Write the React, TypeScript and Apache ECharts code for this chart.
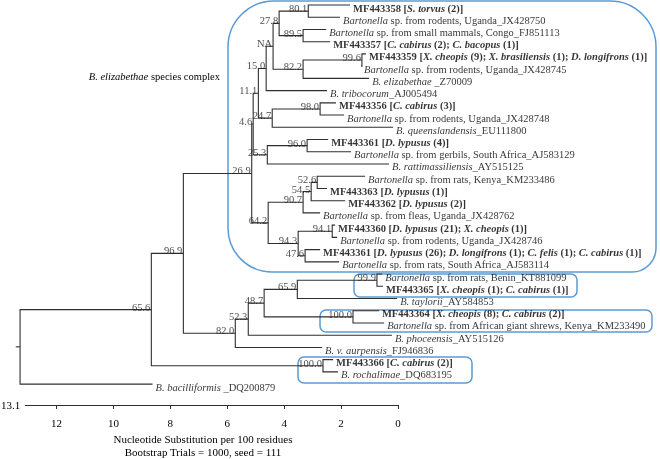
import React, { useEffect, useRef } from 'react';
import * as echarts from 'echarts';

// ---------- data ----------
const leafNames: string[] = [
  'MF443358 [S. torvus (2)]',
  'Bartonella sp. from rodents, Uganda_JX428750',
  'Bartonella sp. from small mammals, Congo_FJ851113',
  'MF443357 [C. cabirus (2); C. bacopus (1)]',
  'MF443359 [X. cheopis (9); X. brasiliensis (1); D. longifrons (1)]',
  'Bartonella sp. from rodents, Uganda_JX428745',
  'B. elizabethae _Z70009',
  'B. tribocorum_AJ005494',
  'MF443356 [C. cabirus (3)]',
  'Bartonella sp. from rodents, Uganda_JX428748',
  'B. queenslandensis_EU111800',
  'MF443361 [D. lypusus (4)]',
  'Bartonella sp. from gerbils, South Africa_AJ583129',
  'B. rattimassiliensis_AY515125',
  'Bartonella sp. from rats, Kenya_KM233486',
  'MF443363 [D. lypusus (1)]',
  'MF443362 [D. lypusus (2)]',
  'Bartonella sp. from fleas, Uganda_JX428762',
  'MF443360 [D. lypusus (21); X. cheopis (1)]',
  'Bartonella sp. from rodents, Uganda_JX428746',
  'MF443361 [D. lypusus (26); D. longifrons (1); C. felis (1); C. cabirus (1)]',
  'Bartonella sp. from rats, South Africa_AJ583114',
  'Bartonella sp. from rats, Benin_KT881099',
  'MF443365 [X. cheopis (1); C. cabirus (1)]',
  'B. taylorii_AY584853',
  'MF443364 [X. cheopis (8); C. cabirus (2)]',
  'Bartonella sp. from African giant shrews, Kenya_KM233490',
  'B. phoceensis_AY515126',
  'B. v. aurpensis_FJ946836',
  'MF443366 [C. cabirus (2)]',
  'B. rochalimae_DQ683195',
  'B. bacilliformis _DQ200879',
];

// tip position on the distance scale (0 at the right end of the scale)
const leafDepth: number[] = [
  1.66, 2.01, 2.49, 2.35, 1.11, 1.28, 1.0, 2.46, 2.15, 1.87, 0.17, 2.42, 1.63, 0.31, 1.14, 2.46,
  1.83, 2.7, 2.18, 2.11, 2.7, 2.04, 0.55, 0.52, 0.03, 0.66, 0.48, 0.21, 2.63, 2.25, 2.08, 8.51,
];

// internal nodes: bootstrap label, position, children ('n' = node, 'l' = leaf)
const nodeSupport: string[] = [
  '', '65.6', '96.9', '26.9', '4.6', '11.1', '15.0', 'NA', '27.8', '80.1', '89.5', '82.2', '99.6',
  '98.0', '24.7', '96.0', '25.3', '52.6', '64.2', '90.7', '54.5', '94.1', '94.3', '47.6', '99.9',
  '82.0', '52.3', '48.7', '65.9', '100.0', '100.0',
];
const nodeDepth: number[] = [
  13.1, 8.55, 7.44, 5.07, 5.02, 4.84, 4.57, 4.33, 4.12, 3.11, 3.29, 3.29, 1.25,
  2.7, 4.36, 3.15, 4.53, 2.8, 4.5, 3.29, 3.01, 2.28, 3.46, 3.22, 0.73,
  5.64, 5.19, 4.64, 3.49, 1.56, 2.6,
];
const nodeKids: string[][] = [
  ['n1', 'l31'], ['n2', 'n30'], ['n3', 'n25'], ['n4', 'n18'], ['n5', 'n16'], ['n6', 'n14'],
  ['n7', 'l7'], ['n8', 'n11'], ['n9', 'n10'], ['l0', 'l1'], ['l2', 'l3'], ['n12', 'l6'],
  ['l4', 'l5'], ['l8', 'l9'], ['n13', 'l10'], ['l11', 'l12'], ['n15', 'l13'], ['l14', 'l15'],
  ['n19', 'n22'], ['n20', 'l17'], ['n17', 'l16'], ['l18', 'l19'], ['n21', 'n23'], ['l20', 'l21'],
  ['l22', 'l23'], ['n26', 'l28'], ['n27', 'l27'], ['n28', 'n29'], ['n24', 'l24'], ['l25', 'l26'],
  ['l29', 'l30'],
];
const rootStemStart = 13.25;

const scaleMax = 13.1;
const tickValues: number[] = [0, 2, 4, 6, 8, 10, 12];
const axisTitle = 'Nucleotide Substitution per 100 residues';
const axisSubtitle = 'Bootstrap Trials = 1000, seed = 111';
const groupLabel = 'B. elizabethae species complex';

// ---------- layout ----------
const W = 660;
const H = 459;
const X0_PX = 398;
const PPU = 28.85;
const ROW0_PX = 5;
const ROW_PX = 12.23;
const FONT = '"Liberation Serif", "Times New Roman", Times, serif';
const FS = 10.5;
const BLUE = '#5B9BD5';
const LINE = '#2f2f2f';

const SPECIES = /(Bartonella|[A-Z]\. (?:v\. )?[a-z]+)/;
function toRich(name: string, bold: boolean): string {
  const parts = name.split(SPECIES);
  return parts
    .map((p, k) => {
      if (!p) return '';
      const italic = k % 2 === 1;
      const key = bold ? (italic ? 'bi' : 'b') : italic ? 'i' : 'n';
      return `{${key}|${p}}`;
    })
    .join('');
}

const base = { fontFamily: FONT, fontSize: FS, color: '#000' };
const RICH = {
  n: { ...base },
  i: { ...base, fontStyle: 'italic' },
  b: { ...base, fontWeight: 'bold' },
  bi: { ...base, fontWeight: 'bold', fontStyle: 'italic' },
};

export default function App() {
  const ref = useRef<HTMLDivElement>(null);
  useEffect(() => {
    if (!ref.current) return;
    const chart = echarts.init(ref.current, null, { renderer: 'svg' });

    const depthOf = (r: string) => (r[0] === 'l' ? leafDepth[+r.slice(1)] : nodeDepth[+r.slice(1)]);
    const rowCache: Record<string, number> = {};
    const rowOf = (r: string): number => {
      if (r in rowCache) return rowCache[r];
      let v: number;
      if (r[0] === 'l') v = +r.slice(1);
      else {
        const k = nodeKids[+r.slice(1)];
        v = (rowOf(k[0]) + rowOf(k[k.length - 1])) / 2;
      }
      rowCache[r] = v;
      return v;
    };

    const segs: any[] = [];
    nodeKids.forEach((kids, i) => {
      const x = nodeDepth[i];
      const a = kids[0];
      const b = kids[kids.length - 1];
      segs.push({
        coords: [
          [depthOf(a), rowOf(a)],
          [x, rowOf(a)],
          [x, rowOf(b)],
          [depthOf(b), rowOf(b)],
        ],
      });
    });
    segs.push({ coords: [[rootStemStart, rowOf('n0')], [nodeDepth[0], rowOf('n0')]] });

    const leafRich = leafNames.map((n) => toRich(n, n.startsWith('MF')));
    const supIdx = nodeSupport.map((s, i) => i).filter((i) => nodeSupport[i] !== '');

    const option: any = {
      animation: false,
      textStyle: { fontFamily: FONT },
      grid: [
        { left: 0, top: 0, width: W, height: H, containLabel: false },
        { left: X0_PX - scaleMax * PPU, width: scaleMax * PPU, top: 404, height: 1, containLabel: false },
      ],
      xAxis: [
        { gridIndex: 0, type: 'value', inverse: true, min: (X0_PX - W) / PPU, max: X0_PX / PPU, show: false },
        {
          gridIndex: 1,
          type: 'value',
          inverse: true,
          min: 0,
          max: scaleMax,
          interval: 2,
          splitLine: { show: false },
          axisLine: { show: true, lineStyle: { color: LINE, width: 1 } },
          axisTick: { show: true, length: 4, customValues: tickValues, lineStyle: { color: LINE } },
          axisLabel: {
            show: true,
            customValues: tickValues,
            margin: 12,
            fontFamily: FONT,
            fontSize: 11,
            color: '#000',
          },
          name: String(scaleMax),
          nameLocation: 'end',
          nameGap: 5,
          nameTextStyle: { fontFamily: FONT, fontSize: 11, color: '#000' },
        },
      ],
      yAxis: [
        { gridIndex: 0, type: 'value', inverse: true, min: -ROW0_PX / ROW_PX, max: (H - ROW0_PX) / ROW_PX, show: false },
        { gridIndex: 1, type: 'value', show: false },
      ],
      series: [
        {
          type: 'lines',
          coordinateSystem: 'cartesian2d',
          xAxisIndex: 0,
          yAxisIndex: 0,
          polyline: true,
          silent: true,
          lineStyle: { color: LINE, width: 1.1, opacity: 1 },
          data: segs,
        },
        {
          type: 'scatter',
          xAxisIndex: 0,
          yAxisIndex: 0,
          symbolSize: 1,
          silent: true,
          itemStyle: { color: 'rgba(0,0,0,0)' },
          data: leafNames.map((_, i) => [leafDepth[i], i]),
          label: {
            show: true,
            position: 'right',
            distance: 2.5,
            offset: [0, 3],
            formatter: (p: any) => leafRich[p.dataIndex],
            rich: RICH,
            ...base,
          },
        },
        {
          type: 'scatter',
          xAxisIndex: 0,
          yAxisIndex: 0,
          symbolSize: 1,
          silent: true,
          itemStyle: { color: 'rgba(0,0,0,0)' },
          data: supIdx.map((i) => [nodeDepth[i], rowOf('n' + i)]),
          label: {
            show: true,
            position: 'left',
            distance: 0.5,
            offset: [0, -2.5],
            formatter: (p: any) => nodeSupport[supIdx[p.dataIndex]],
            ...base,
            color: '#222',
          },
        },
      ],
      graphic: [
        {
          type: 'rect',
          shape: { x: 228, y: 1, width: 428, height: 271, r: [46, 46, 24, 44] },
          style: { fill: 'none', stroke: BLUE, lineWidth: 1.5 },
          silent: true,
        },
        {
          type: 'rect',
          shape: { x: 354, y: 274, width: 223, height: 23, r: 6 },
          style: { fill: 'none', stroke: BLUE, lineWidth: 1.5 },
          silent: true,
        },
        {
          type: 'rect',
          shape: { x: 320, y: 310, width: 332, height: 22, r: 6 },
          style: { fill: 'none', stroke: BLUE, lineWidth: 1.5 },
          silent: true,
        },
        {
          type: 'rect',
          shape: { x: 298, y: 357, width: 174, height: 26, r: 6 },
          style: { fill: 'none', stroke: BLUE, lineWidth: 1.5 },
          silent: true,
        },
        {
          type: 'text',
          x: 220,
          y: 76,
          silent: true,
          style: {
            text: toRich(groupLabel, false),
            rich: RICH,
            align: 'right',
            verticalAlign: 'middle',
            fontFamily: FONT,
            fontSize: FS,
            fill: '#000',
          },
        },
        {
          type: 'text',
          x: 203,
          y: 439,
          silent: true,
          style: { text: axisTitle, align: 'center', verticalAlign: 'middle', fontFamily: FONT, fontSize: 11, fill: '#000' },
        },
        {
          type: 'text',
          x: 203,
          y: 452,
          silent: true,
          style: { text: axisSubtitle, align: 'center', verticalAlign: 'middle', fontFamily: FONT, fontSize: 11, fill: '#000' },
        },
      ],
    };

    chart.setOption(option);
    return () => chart.dispose();
  }, []);

  return <div ref={ref} style={{ position: 'fixed', left: 0, top: 0, width: W, height: H }} />;
}
